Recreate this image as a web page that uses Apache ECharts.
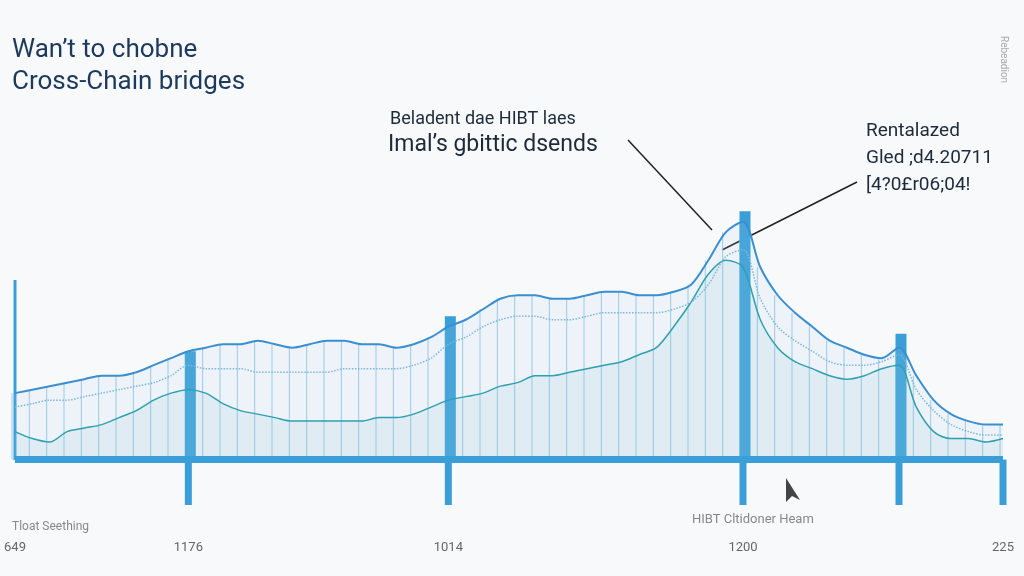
<!DOCTYPE html><html><head><meta charset="utf-8"><script src="https://cdn.jsdelivr.net/npm/echarts@6/dist/echarts.min.js"></script>
<style>html,body{margin:0;background:#f7f9fb}#c{width:1024px;height:576px}</style></head><body><div id="c"></div><script>
const topLine=[19,20,21,22,23,24,24,25,27,29,31,32,33,33,34,33,32,33,34,34,33,33,32,33,35,38,40,43,46,47,47,46,46,47,48,48,47,47,48,50,57,65,68,55,47,42,38,34,32,30,29,32,24,17,13,11,10,10];
const dotLine=[15,16,17,17,18,19,20,21,22,24,27,26,26,26,25,25,25,25,25,26,26,26,26,27,29,33,35,38,40,41,41,40,40,41,42,42,42,42,43,45,50,58,60,46,38,34,31,28,27,27,28,30,20,14,10,8,7,7];
const tealLine=[8,6,5,8,9,10,12,14,17,19,20,19,16,14,13,12,11,11,11,11,11,12,12,13,15,17,18,19,21,22,24,24,25,26,27,28,30,32,38,45,53,57,55,40,32,28,26,24,23,24,26,27,15,8,6,6,5,6];
const towerIdx=[10,25,42,51];
const towerTop=[31,41,71,36];
const tickLabels={0:'649',10:'1176',25:'1014',42:'1200',57:'225'};
const cats=topLine.map((_,i)=>String(i));
const towersUp=cats.map((_,i)=>{const k=towerIdx.indexOf(i);return k>=0?towerTop[k]:null;});
const towersDown=cats.map((_,i)=>towerIdx.indexOf(i)>=0||i===57?-13:null);
const blue='#3a9fd8';
const ch=echarts.init(document.getElementById('c'));
ch.setOption({backgroundColor:'#f7f9fb',animation:false,
grid:{left:15,right:21,top:110,bottom:71},
xAxis:{type:'category',data:cats,boundaryGap:false,axisLine:{show:false},axisTick:{show:false},
 axisLabel:{interval:0,margin:36,color:'#666',fontSize:13,fontFamily:'Liberation Sans Narrow, Roboto',formatter:v=>tickLabels[v]||''}},
yAxis:{type:'value',min:-13,max:100,show:false,splitLine:{show:false}},
series:[
 {type:'bar',data:topLine,barWidth:1,barGap:'-100%',itemStyle:{color:'#9cc7e2'},silent:true},
 {type:'line',smooth:0.3,data:tealLine,symbol:'none',lineStyle:{color:'#2fa0b0',width:1.5},areaStyle:{color:'rgba(120,190,215,0.18)'}},
 {type:'line',smooth:0.3,data:dotLine,symbol:'none',lineStyle:{color:'#7ab8dc',width:1.5,type:'dotted'}},
 {type:'line',smooth:0.3,data:topLine,symbol:'none',lineStyle:{color:'#3b8fd0',width:2},areaStyle:{color:'rgba(170,210,235,0.18)'},
  markLine:{symbol:'none',silent:true,label:{show:false},lineStyle:{color:blue,width:7,type:'solid'},data:[{yAxis:0}]}},
 {type:'bar',data:towersUp,barWidth:11,barGap:'-100%',itemStyle:{color:blue}},
 {type:'bar',data:towersDown,barWidth:7,barGap:'-100%',itemStyle:{color:blue}}
],
graphic:[
 {type:'text',left:12,top:34,style:{text:'Wan\u2019t to chobne\nCross-Chain bridges',font:'26px Roboto',fill:'#1d3a5c',lineHeight:32}},
 {type:'text',left:390,top:110,style:{text:'Beladent dae HIBT laes',font:'18px Roboto',fill:'#1d2a3a'}},
 {type:'text',left:388,top:134,style:{text:'Imal\u2019s gbittic dsends',font:'23px Roboto',fill:'#1d2a3a'}},
 {type:'text',left:866,top:122,style:{text:'Rentalazed',font:'19px Roboto',fill:'#1d2a3a'}},
 {type:'text',left:866,top:149,style:{text:'Gled ;d4.20711',font:'19px Roboto',fill:'#1d2a3a'}},
 {type:'text',left:866,top:176,style:{text:'[4?0\u00a3r06;04!',font:'19px Roboto',fill:'#1d2a3a'}},
 {type:'line',shape:{x1:628,y1:140,x2:712,y2:230},style:{stroke:'#222',lineWidth:1.5}},
 {type:'line',shape:{x1:857,y1:182,x2:722,y2:250},style:{stroke:'#222',lineWidth:1.5}},
 {type:'text',left:998,top:36,rotation:-Math.PI/2,style:{text:'Rebeadion',font:'10px Roboto',fill:'#aaa'}},
 {type:'text',left:12,top:521,style:{text:'Tloat Seething',font:'12px Roboto',fill:'#888'}},
 {type:'text',left:692,top:513,style:{text:'HIBT Cltidoner Heam',font:'13px Roboto',fill:'#888'}},
 {type:'line',shape:{x1:15,y1:280,x2:15,y2:460},style:{stroke:blue,lineWidth:3}},
 {type:'polygon',shape:{points:[[786,478],[786,502],[792,496],[800,500]]},style:{fill:'#444'}}
]});
</script></body></html>
